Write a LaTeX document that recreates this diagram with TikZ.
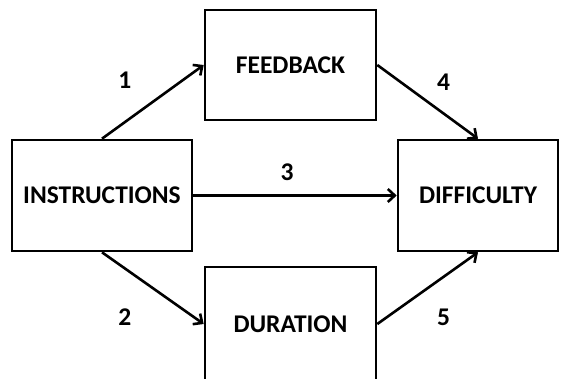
\documentclass[tikz,border=0pt]{standalone}
\usepackage{fontspec}
\setmainfont{Carlito}
\usetikzlibrary{arrows.meta}

\begin{document}
\begin{tikzpicture}[
    x=1pt, y=1pt,
    barb/.tip={Straight Barb[length=7pt,width=13pt]},
    box/.style={draw, line width=2.6pt, inner sep=0pt, font=\fontsize{25.5}{30}\selectfont\bfseries},
    link/.style={-barb, line width=2.6pt},
    num/.style={font=\fontsize{25.5}{30}\selectfont\bfseries},
]
    \useasboundingbox (0,0) rectangle (561,378);
    \clip (0,0) rectangle (561,378);

    \node[box, minimum width=171pt, minimum height=110pt] (feedback) at (290.5,313) {FEEDBACK};
    \node[box, minimum width=180pt, minimum height=111pt] (instr) at (102,182.5) {INSTRUCTIONS};
    \node[box, minimum width=160pt, minimum height=111pt] (diff) at (478,182.5) {DIFFICULTY};
    \node[box, minimum width=171pt, minimum height=114pt] (duration) at (290.5,54) {DURATION};

    \draw[link] (instr.north) -- node[num, xshift=-28pt, yshift=22pt] {1} (feedback.west);
    \draw[link] (instr.south) -- node[num, xshift=-28pt, yshift=-29pt] {2} (duration.west);
    \draw[link] (instr.east) -- node[num, xshift=-8pt, yshift=23pt] {3} (diff.west);
    \draw[link] (feedback.east) -- node[num, xshift=16pt, yshift=20pt] {4} (diff.north);
    \draw[link] (duration.east) -- node[num, xshift=16pt, yshift=-29pt] {5} (diff.south);
\end{tikzpicture}
\end{document}
